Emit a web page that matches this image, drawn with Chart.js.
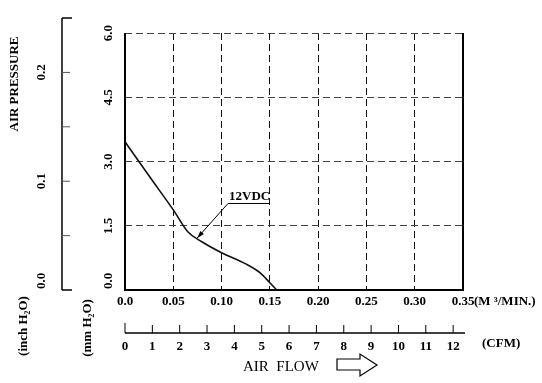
<!DOCTYPE html>
<html>
<head>
<meta charset="utf-8">
<script src="https://cdn.jsdelivr.net/npm/chart.js@4"></script>
<style>
  html, body { margin: 0; padding: 0; background: #fff; }
  #wrap { width: 542px; height: 383px; }
</style>
</head>
<body>
<div id="wrap"><canvas id="fanCurve" width="542" height="383"></canvas></div>
<script>
// curve (M3/MIN vs mm H2O)
const airFlow = [0, 0.025, 0.050, 0.065, 0.080, 0.100, 0.125, 0.140, 0.150, 0.157];
const pressure = [3.46, 2.66, 1.87, 1.36, 1.12, 0.87, 0.61, 0.40, 0.17, 0];

// axis ticks
const flowTicks = [0, 0.05, 0.10, 0.15, 0.20, 0.25, 0.30, 0.35];
const flowLabels = ['0.0', '0.05', '0.10', '0.15', '0.20', '0.25', '0.30', '0.35'];
const mmTicks = [0, 1.5, 3.0, 4.5, 6.0];
const mmLabels = ['0.0', '1.5', '3.0', '4.5', '6.0'];
const inchTicks = [0, 0.05, 0.10, 0.15, 0.20, 0.25];
const inchLabels = ['0.0', '', '0.1', '', '0.2', ''];
const cfmTicks = [0, 1, 2, 3, 4, 5, 6, 7, 8, 9, 10, 11, 12];

// 12VDC callout: arrow tip, elbow, end of underline (data units)
const calloutTip = [0.0746, 1.21];
const calloutElbow = [0.1067, 2.02];
const calloutEnd = [0.150, 2.02];

const MM_PER_INCH = 25.4;
const M3MIN_PER_CFM = 0.0283168;

const bold = 'bold 13px "Liberation Serif", "DejaVu Serif", serif';

function rotText(ctx, txt, x, y, align) {
    ctx.save();
    ctx.translate(x, y);
    ctx.rotate(-Math.PI / 2);
    ctx.textAlign = align || 'center';
    ctx.textBaseline = 'middle';
    ctx.fillText(txt, 0, 0);
    ctx.restore();
}

const decor = {
    id: 'decor',
    afterDraw(chart) {
        const ctx = chart.ctx;
        const a = chart.chartArea;
        const xs = chart.scales.x;
        const ys = chart.scales.y;
        ctx.save();
        ctx.fillStyle = '#000';
        ctx.strokeStyle = '#000';

        // solid frame on left, bottom, right
        ctx.lineWidth = 2;
        ctx.beginPath();
        ctx.moveTo(a.left, a.top);
        ctx.lineTo(a.left, a.bottom);
        ctx.lineTo(a.right, a.bottom);
        ctx.lineTo(a.right, a.top);
        ctx.stroke();

        // mm labels, rotated
        ctx.font = bold;
        mmTicks.forEach((v, i) => {
            const py = ys.getPixelForValue(v);
            if (v === 0) rotText(ctx, mmLabels[i], 109, py - 1, 'left');
            else rotText(ctx, mmLabels[i], 109, py);
        });

        // inch H2O axis, left
        const ax = 62;
        const yTop = ys.getPixelForValue(inchTicks[inchTicks.length - 1] * MM_PER_INCH);
        ctx.lineWidth = 1.5;
        ctx.beginPath();
        ctx.moveTo(ax, yTop);
        ctx.lineTo(ax, a.bottom);
        ctx.stroke();
        inchTicks.forEach((v, i) => {
            const py = ys.getPixelForValue(v * MM_PER_INCH);
            const first = i === 0 || i === inchTicks.length - 1;
            ctx.lineWidth = first ? 1.5 : 1;
            ctx.strokeStyle = first ? '#000' : '#555';
            ctx.beginPath();
            ctx.moveTo(ax, py);
            ctx.lineTo(ax + (first ? 10 : 8), py);
            ctx.stroke();
            if (inchLabels[i]) {
                if (v === 0) rotText(ctx, inchLabels[i], 42, py - 1, 'left');
                else rotText(ctx, inchLabels[i], 42, py);
            }
        });
        ctx.strokeStyle = '#000';

        rotText(ctx, 'AIR PRESSURE', 15, 84);
        rotText(ctx, '(inch H\u2082O)', 24, 326);
        rotText(ctx, '(mm H\u2082O)', 88, 328);

        // flow labels (M3/MIN)
        ctx.textBaseline = 'middle';
        ctx.textAlign = 'center';
        flowTicks.forEach((v, i) => {
            ctx.fillText(flowLabels[i], xs.getPixelForValue(v), 302);
        });
        ctx.textAlign = 'left';
        ctx.fillText('(M \u00b3/MIN.)', xs.getPixelForValue(0.35) + 11, 302);

        // CFM axis
        const cy = 333;
        const cfmEnd = xs.getPixelForValue(0.35) + 2;
        ctx.lineWidth = 1.5;
        ctx.beginPath();
        ctx.moveTo(xs.getPixelForValue(0), cy);
        ctx.lineTo(cfmEnd, cy);
        ctx.stroke();
        ctx.lineWidth = 1;
        ctx.textAlign = 'center';
        cfmTicks.forEach((c) => {
            const px = xs.getPixelForValue(c * M3MIN_PER_CFM);
            ctx.beginPath();
            ctx.moveTo(px, cy);
            ctx.lineTo(px, cy - (c === 0 ? 10 : 8));
            ctx.stroke();
            ctx.fillText(String(c), px, 347);
        });
        ctx.textAlign = 'left';
        ctx.fillText('(CFM)', 482, 344);

        // AIR FLOW with outlined arrow
        ctx.font = '15px "Liberation Serif", "DejaVu Serif", serif';
        ctx.fillText('AIR  FLOW', 243, 367);
        ctx.lineWidth = 1.2;
        ctx.beginPath();
        ctx.moveTo(337, 359);
        ctx.lineTo(360, 359);
        ctx.lineTo(360, 354);
        ctx.lineTo(377, 365);
        ctx.lineTo(360, 376);
        ctx.lineTo(360, 370);
        ctx.lineTo(337, 370);
        ctx.closePath();
        ctx.stroke();

        // 12VDC callout
        const tx = xs.getPixelForValue(calloutTip[0]);
        const ty = ys.getPixelForValue(calloutTip[1]);
        const ex = xs.getPixelForValue(calloutElbow[0]);
        const ey = ys.getPixelForValue(calloutElbow[1]);
        const fx = xs.getPixelForValue(calloutEnd[0]);
        ctx.lineWidth = 1;
        ctx.beginPath();
        ctx.moveTo(tx, ty);
        ctx.lineTo(ex, ey);
        ctx.lineTo(fx, ey);
        ctx.stroke();
        const ang = Math.atan2(ey - ty, ex - tx);
        ctx.beginPath();
        ctx.moveTo(tx, ty);
        ctx.lineTo(tx + 8 * Math.cos(ang - 0.3), ty + 8 * Math.sin(ang - 0.3));
        ctx.lineTo(tx + 8 * Math.cos(ang + 0.3), ty + 8 * Math.sin(ang + 0.3));
        ctx.closePath();
        ctx.fill();
        ctx.font = bold;
        ctx.textAlign = 'left';
        ctx.textBaseline = 'alphabetic';
        ctx.fillText('12VDC', ex + 1, ey - 3);

        ctx.restore();
    }
};

new Chart(document.getElementById('fanCurve').getContext('2d'), {
    type: 'line',
    data: {
        datasets: [{
            label: '12VDC',
            data: airFlow.map((f, i) => ({ x: f, y: pressure[i] })),
            borderColor: '#111',
            borderWidth: 1.6,
            pointRadius: 0,
            fill: false,
            cubicInterpolationMode: 'monotone'
        }]
    },
    options: {
        responsive: false,
        animation: false,
        events: [],
        layout: { padding: { left: 125, right: 79, top: 33, bottom: 93 } },
        plugins: { legend: { display: false }, tooltip: { enabled: false } },
        scales: {
            x: {
                type: 'linear',
                min: 0,
                max: 0.35,
                afterBuildTicks: (s) => { s.ticks = flowTicks.map(v => ({ value: v })); },
                ticks: { display: false },
                grid: { color: '#111', lineWidth: 1, drawTicks: false },
                border: { display: false, dash: [7, 4] }
            },
            y: {
                type: 'linear',
                min: 0,
                max: 6,
                afterBuildTicks: (s) => { s.ticks = mmTicks.map(v => ({ value: v })); },
                ticks: { display: false },
                grid: { color: '#444', lineWidth: 1, drawTicks: false },
                border: { display: false, dash: [7, 4] }
            }
        }
    },
    plugins: [decor]
});
</script>
</body>
</html>
